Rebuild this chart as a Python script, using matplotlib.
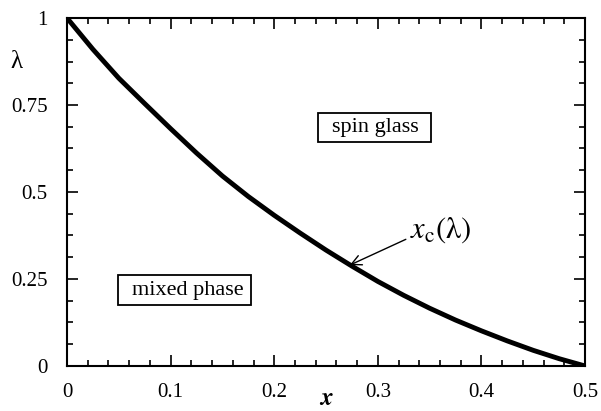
import numpy as np
import matplotlib
matplotlib.use("Agg")
import matplotlib.pyplot as plt
from matplotlib.patches import Rectangle
from matplotlib.ticker import MultipleLocator

plt.rcParams['font.family'] = ['Liberation Serif', 'DejaVu Serif']
plt.rcParams['mathtext.fontset'] = 'stix'

# critical line x_c(lambda)
x_vals = [0.0, 0.025, 0.05, 0.075, 0.1, 0.125, 0.15, 0.175, 0.2, 0.225, 0.25,
          0.275, 0.3, 0.325, 0.35, 0.375, 0.4, 0.425, 0.45, 0.475, 0.5]
lam_vals = [1.0, 0.91, 0.827, 0.754, 0.682, 0.612, 0.546, 0.487, 0.433, 0.382, 0.333,
            0.287, 0.243, 0.203, 0.166, 0.132, 0.101, 0.072, 0.045, 0.021, 0.0]

x_ticks = [0, 0.1, 0.2, 0.3, 0.4, 0.5]
x_ticklabels = ["0", "0.1", "0.2", "0.3", "0.4", "0.5"]
y_ticks = [0, 0.25, 0.5, 0.75, 1]
y_ticklabels = ["0", "0.25", "0.5", "0.75", "1"]

fig = plt.figure(figsize=(6.01, 4.11), dpi=100)
ax = fig.add_axes([0.1115, 0.1095, 0.862, 0.8467])

ax.plot(x_vals, lam_vals, color="black", lw=3.5, solid_capstyle="butt")

ax.set_xlim(0, 0.5)
ax.set_ylim(0, 1)
ax.set_xticks(x_ticks)
ax.set_xticklabels(x_ticklabels)
ax.set_yticks(y_ticks)
ax.set_yticklabels(y_ticklabels)
ax.xaxis.set_minor_locator(MultipleLocator(0.02))
ax.yaxis.set_minor_locator(MultipleLocator(0.0625))
ax.tick_params(which="both", direction="in", top=True, right=True,
               labelsize=15, width=1.2)
ax.tick_params(axis="x", pad=12)
ax.tick_params(axis="y", pad=14)
ax.tick_params(which="major", length=8)
ax.tick_params(which="minor", length=4.5)
for s in ax.spines.values():
    s.set_linewidth(1.5)

ax.text(0.5, -0.094, r"$\boldsymbol{x}$", transform=ax.transAxes, fontsize=18,
        ha="center", va="center")
ax.text(-0.098, 0.875, "λ", transform=ax.transAxes, fontsize=18,
        ha="center", va="center")

# region labels in boxes
ax.add_patch(Rectangle((0.2426, 0.645), 0.1084, 0.083, fill=False, ec="black", lw=1.3))
ax.text(0.2975, 0.686, "spin glass", fontsize=16, ha="center", va="center")
ax.add_patch(Rectangle((0.0495, 0.175), 0.1285, 0.087, fill=False, ec="black", lw=1.3))
ax.text(0.1163, 0.218, "mixed phase", fontsize=16, ha="center", va="center")

# arrow to the critical line
ax.annotate("", xy=(0.273, 0.29), xytext=(0.327, 0.364),
            arrowprops=dict(arrowstyle="->", color="black", lw=1.0,
                            shrinkA=0, shrinkB=0, mutation_scale=18))
ax.text(0.331, 0.37, r"$x_{\mathrm{c}}(\mathrm{\lambda})$", fontsize=22,
        ha="left", va="baseline")

fig.savefig("out.png", dpi=100)
